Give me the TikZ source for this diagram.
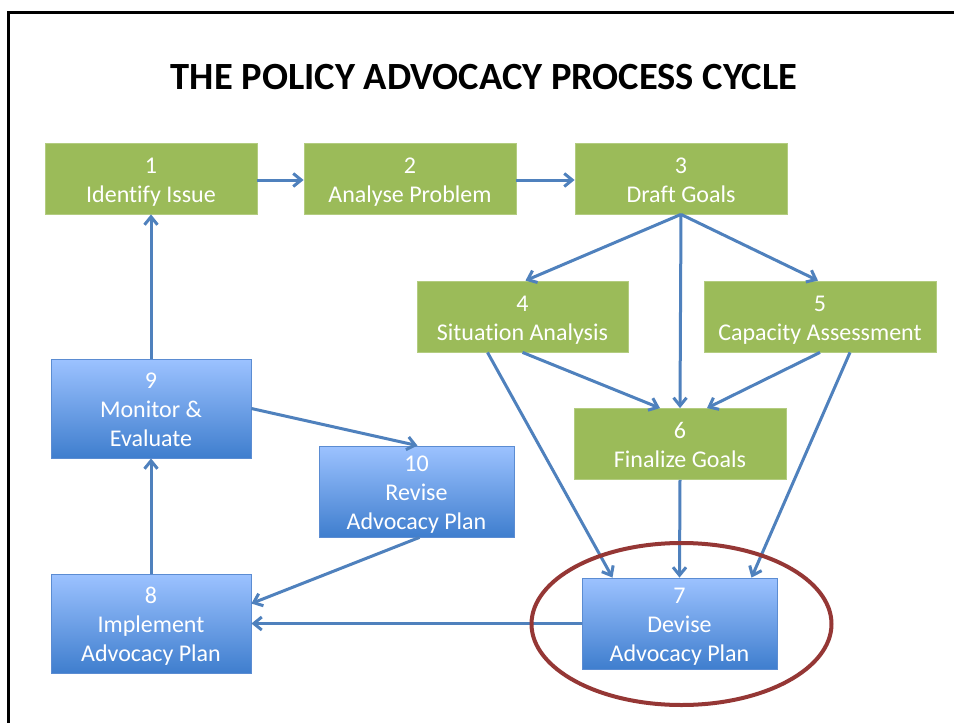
\documentclass[tikz,border=0pt]{standalone}
\usepackage{fontspec}
\setmainfont{Carlito}[Ligatures=NoCommon]
\usetikzlibrary{arrows.meta,shapes.geometric}
\definecolor{boxgreen}{HTML}{9BBB59}
\definecolor{greenedge}{HTML}{B3CC80}
\definecolor{bluetop}{HTML}{9CC2FF}
\definecolor{bluebot}{HTML}{3F7ECE}
\definecolor{blueedge}{HTML}{5B8CD2}
\definecolor{arrowblue}{HTML}{4F81BD}
\definecolor{ringred}{HTML}{953735}
% text lines placed with first baseline #1 above the box centre
\newcommand{\boxlines}[2]{\raisebox{#1}[0pt][0pt]{\begin{tabular}[t]{@{}c@{}}#2\end{tabular}}}
\tikzset{
  boxtext/.style={text=white, inner sep=0pt,
    font=\fontsize{24}{29}\selectfont},
  gbox/.style={rectangle, boxtext, fill=boxgreen, draw=greenedge, line width=0.8pt,
    minimum width=212pt, minimum height=71pt},
  bbox/.style={rectangle, boxtext, top color=bluetop, bottom color=bluebot, draw=blueedge,
    line width=0.8pt, minimum width=200pt, minimum height=99pt},
  arr/.style={draw=arrowblue, line width=3pt,
    -{Straight Barb[length=8pt,width=13pt]}},
}
\begin{document}
\begin{tikzpicture}[x=1pt,y=-1pt]
\useasboundingbox (0,0) rectangle (954,723);
\fill[white] (0,0) rectangle (954,723);
% frame
\draw[line width=3pt, black] (8,740) -- (8,12) -- (970,12);
% title
\node[anchor=base, font=\fontsize{38.5}{44}\selectfont\bfseries] (title) at (484,89) {THE POLICY ADVOCACY PROCESS CYCLE};
% green boxes
\node[gbox] (n1) at (151,178.5) {\boxlines{5.5pt}{1\\Identify Issue}};
\node[gbox] (n2) at (410,178.5) {\boxlines{5.5pt}{2\\Analyse Problem}};
\node[gbox] (n3) at (681,178.5) {\boxlines{5.5pt}{3\\Draft Goals}};
\node[gbox, minimum width=211pt] (n4) at (522.5,316.5) {\boxlines{5.5pt}{4\\Situation Analysis}};
\node[gbox, minimum width=232pt] (n5) at (820,316.5) {\boxlines{5.5pt}{5\\Capacity Assessment}};
\node[gbox] (n6) at (680,444) {\boxlines{5.5pt}{6\\Finalize Goals}};
% blue boxes
\node[bbox, minimum width=195pt, minimum height=91pt] (n7) at (679.5,623.5) {\boxlines{20pt}{7\\Devise\\Advocacy Plan}};
\node[bbox] (n9) at (151,408.5) {\boxlines{20pt}{9\\Monitor \&\\Evaluate}};
\node[bbox, minimum width=195pt, minimum height=91pt] (n10) at (416.5,491.5) {\boxlines{20pt}{10\\Revise\\Advocacy Plan}};
\node[bbox] (n8) at (151,623.5) {\boxlines{20pt}{8\\Implement\\Advocacy Plan}};
% connectors
\draw[arr] ([yshift=-1.5pt]n1.east) -- ([yshift=-1.5pt]n2.west);
\draw[arr] ([yshift=-1.5pt]n2.east) -- ([yshift=-1.5pt]n3.west);
\draw[arr] (n3.south) -- ([xshift=3pt]n4.north);
\draw[arr] (n3.south) -- ([xshift=-2pt]n5.north);
\draw[arr] (n3.south) -- (n6.north);
\draw[arr] (n4.south) -- ([xshift=-20pt]n6.north);
\draw[arr] (n5.south) -- ([xshift=27pt]n6.north);
\draw[arr] ([xshift=-35pt]n4.south) -- ([xshift=-67pt]n7.north);
\draw[arr] ([xshift=30pt]n5.south) -- ([xshift=72pt]n7.north);
\draw[arr] (n6.south) -- (n7.north);
\draw[arr] (n7.west) -- (n8.east);
\draw[arr] ([xshift=3pt]n10.south) -- ([yshift=20pt]n8.east);
\draw[arr] (n9.east) -- ([xshift=1pt]n10.north);
\draw[arr] (n8.north) -- (n9.south);
\draw[arr] (n9.north) -- (n1.south);
% highlight ring
\node[ellipse, draw=ringred, line width=4pt, minimum width=300pt, minimum height=162pt, inner sep=0pt] (ring) at (681.5,624) {};
\end{tikzpicture}
\end{document}
